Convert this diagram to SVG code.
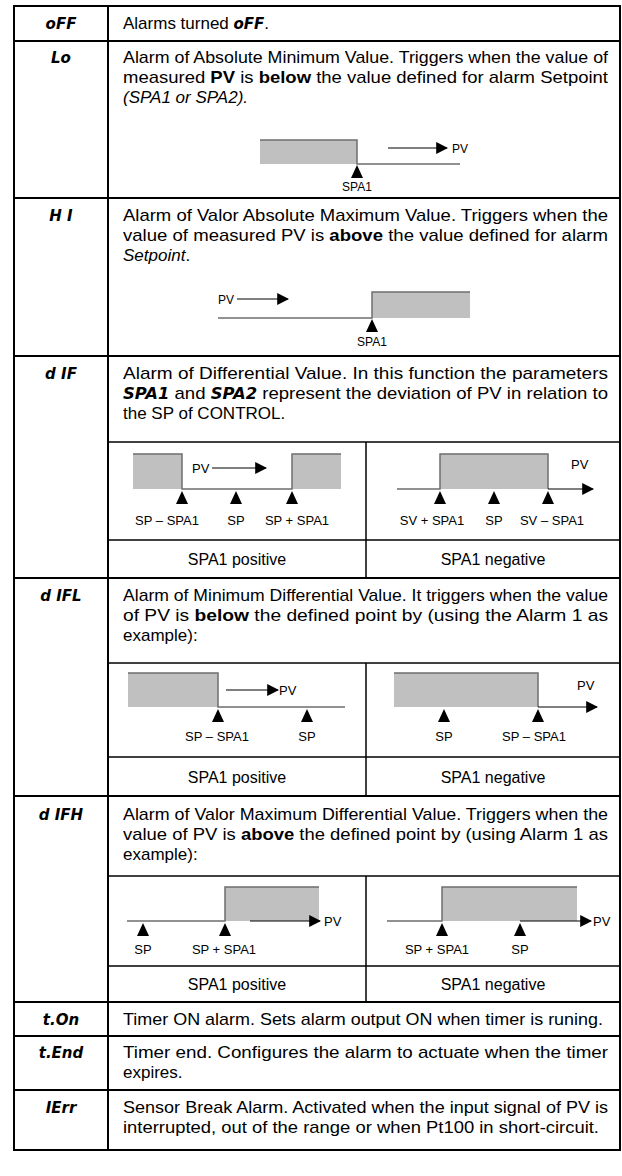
<svg xmlns="http://www.w3.org/2000/svg" width="622" height="1176" viewBox="0 0 622 1176">
<defs>
<style>
.t{font-family:"Liberation Sans",Arial,sans-serif;font-size:17px;fill:#000}
.k{font-family:"DejaVu Sans",sans-serif;font-weight:bold;font-style:oblique;font-size:15px;fill:#000}
.d{font-family:"Liberation Sans",Arial,sans-serif;font-size:13px;fill:#000}
.ds{font-family:"Liberation Sans",Arial,sans-serif;font-size:12px;fill:#000}
.c{font-family:"Liberation Sans",Arial,sans-serif;font-size:16px;fill:#000;text-anchor:middle}
.m{text-anchor:middle}
.bd{font-weight:bold}
.it{font-style:italic}
.grid{stroke:#000;stroke-width:2;fill:none}
.sub{stroke:#000;stroke-width:1.5;fill:none}
.zone{fill:#c0c0c0;stroke:none}
.edge{stroke:#6e6e6e;stroke-width:1.5;fill:none}
.axis{stroke:#000;stroke-width:1.2;fill:none}
</style>
<marker id="ah" viewBox="0 0 10 10" refX="9" refY="5" markerWidth="12" markerHeight="12" markerUnits="userSpaceOnUse" orient="auto"><path d="M0,0 L10,5 L0,10 Z" fill="#000"/></marker>
<path id="tri" d="M0,0 L-6,13 L6,13 Z" fill="#000"/>
</defs>
<rect width="622" height="1176" fill="#fff"/>

<g id="grid" class="grid">
<rect x="14" y="6" width="606" height="1144"/>
<line x1="108" y1="6" x2="108" y2="1150"/>
<line x1="14" y1="41" x2="620" y2="41"/>
<line x1="14" y1="198" x2="620" y2="198"/>
<line x1="14" y1="356" x2="620" y2="356"/>
<line x1="14" y1="578" x2="620" y2="578"/>
<line x1="14" y1="796" x2="620" y2="796"/>
<line x1="14" y1="1002" x2="620" y2="1002"/>
<line x1="14" y1="1036" x2="620" y2="1036"/>
<line x1="14" y1="1090" x2="620" y2="1090"/>
</g>
<g id="subgrid" class="sub">
<line x1="108" y1="442" x2="620" y2="442"/><line x1="108" y1="540" x2="620" y2="540"/><line x1="366" y1="442" x2="366" y2="578"/>
<line x1="108" y1="663" x2="620" y2="663"/><line x1="108" y1="757" x2="620" y2="757"/><line x1="366" y1="663" x2="366" y2="796"/>
<line x1="108" y1="876" x2="620" y2="876"/><line x1="108" y1="966" x2="620" y2="966"/><line x1="366" y1="876" x2="366" y2="1002"/>
</g>

<g id="row-off">
<text class="k m" x="61" y="29">oFF</text>
<text class="t" x="123" y="29">Alarms turned <tspan class="k">oFF</tspan>.</text>
</g>

<g id="row-lo">
<text class="k m" x="61" y="63">Lo</text>
<text class="t" x="123" y="63" textLength="485" lengthAdjust="spacingAndGlyphs">Alarm of Absolute Minimum Value. Triggers when the value of</text>
<text class="t" x="123" y="83" textLength="485" lengthAdjust="spacingAndGlyphs">measured <tspan class="bd">PV</tspan> is <tspan class="bd">below</tspan> the value defined for alarm Setpoint</text>
<text class="t it" x="123" y="103">(SPA1 or SPA2).</text>
<rect class="zone" x="260" y="140" width="97" height="24"/>
<path class="edge" d="M260,140 H357 V164 H460"/>
<line class="axis" x1="388" y1="148" x2="447" y2="148" marker-end="url(#ah)"/>
<text class="ds" x="452" y="153">PV</text>
<use href="#tri" x="357" y="165"/>
<text class="ds m" x="357" y="191">SPA1</text>
</g>

<g id="row-hi">
<text class="k m" x="61" y="221">H I</text>
<text class="t" x="123" y="221" textLength="485" lengthAdjust="spacingAndGlyphs">Alarm of Valor Absolute Maximum Value. Triggers when the</text>
<text class="t" x="123" y="241" textLength="485" lengthAdjust="spacingAndGlyphs">value of measured PV is <tspan class="bd">above</tspan> the value defined for alarm</text>
<text class="t" x="123" y="261"><tspan class="it">Setpoint</tspan>.</text>
<text class="ds" x="218" y="304">PV</text>
<line class="axis" x1="237" y1="299" x2="288" y2="299" marker-end="url(#ah)"/>
<rect class="zone" x="372" y="292" width="98" height="26"/>
<path class="edge" d="M218,318 H372 V292 H470"/>
<use href="#tri" x="372" y="319"/>
<text class="ds m" x="372" y="346">SPA1</text>
</g>

<g id="row-dif">
<text class="k m" x="61" y="379">d IF</text>
<text class="t" x="123" y="379" textLength="485" lengthAdjust="spacingAndGlyphs">Alarm of Differential Value. In this function the parameters</text>
<text class="t" x="123" y="399" textLength="485" lengthAdjust="spacingAndGlyphs"><tspan class="k">SPA1</tspan> and <tspan class="k">SPA2</tspan> represent the deviation of PV in relation to</text>
<text class="t" x="123" y="419">the SP of CONTROL.</text>
<rect class="zone" x="133" y="454" width="49" height="35"/>
<rect class="zone" x="292" y="454" width="49" height="35"/>
<path class="edge" d="M133,454 H182 V489 H292 V454 H341"/>
<text class="d" x="192" y="473">PV</text>
<line class="axis" x1="212" y1="468" x2="266" y2="468" marker-end="url(#ah)"/>
<use href="#tri" x="182" y="491"/><use href="#tri" x="236" y="491"/><use href="#tri" x="292" y="491"/>
<text class="d m" x="167" y="525">SP – SPA1</text>
<text class="d m" x="236" y="525">SP</text>
<text class="d m" x="297" y="525">SP + SPA1</text>
<rect class="zone" x="440" y="454" width="108" height="35"/>
<path class="edge" d="M397,489 H440 V454 H548 V489"/>
<line class="axis" x1="548" y1="489" x2="593" y2="489" marker-end="url(#ah)"/>
<text class="d" x="571" y="469">PV</text>
<use href="#tri" x="440" y="491"/><use href="#tri" x="494" y="491"/><use href="#tri" x="548" y="491"/>
<text class="d m" x="432" y="525">SV + SPA1</text>
<text class="d m" x="494" y="525">SP</text>
<text class="d m" x="552" y="525">SV – SPA1</text>
<text class="c" x="237" y="565">SPA1 positive</text>
<text class="c" x="493" y="565">SPA1 negative</text>
</g>

<g id="row-difl">
<text class="k m" x="61" y="601">d IFL</text>
<text class="t" x="123" y="601" textLength="485" lengthAdjust="spacingAndGlyphs">Alarm of Minimum Differential Value. It triggers when the value</text>
<text class="t" x="123" y="621" textLength="485" lengthAdjust="spacingAndGlyphs">of PV is <tspan class="bd">below</tspan> the defined point by (using the Alarm 1 as</text>
<text class="t" x="123" y="641">example):</text>
<rect class="zone" x="128" y="673" width="90" height="34"/>
<path class="edge" d="M128,673 H218 V707 H345"/>
<line class="axis" x1="226" y1="690" x2="278" y2="690" marker-end="url(#ah)"/>
<text class="d" x="279" y="695">PV</text>
<use href="#tri" x="218" y="709"/><use href="#tri" x="307" y="709"/>
<text class="d m" x="217" y="741">SP – SPA1</text>
<text class="d m" x="307" y="741">SP</text>
<rect class="zone" x="394" y="673" width="144" height="34"/>
<path class="edge" d="M394,673 H538 V707"/>
<line class="axis" x1="538" y1="707" x2="597" y2="707" marker-end="url(#ah)"/>
<text class="d" x="577" y="690">PV</text>
<use href="#tri" x="444" y="709"/><use href="#tri" x="538" y="709"/>
<text class="d m" x="444" y="741">SP</text>
<text class="d m" x="534" y="741">SP – SPA1</text>
<text class="c" x="237" y="783">SPA1 positive</text>
<text class="c" x="493" y="783">SPA1 negative</text>
</g>

<g id="row-difh">
<text class="k m" x="61" y="820">d IFH</text>
<text class="t" x="123" y="820" textLength="485" lengthAdjust="spacingAndGlyphs">Alarm of Valor Maximum Differential Value. Triggers when the</text>
<text class="t" x="123" y="840" textLength="485" lengthAdjust="spacingAndGlyphs">value of PV is <tspan class="bd">above</tspan> the defined point by (using Alarm 1 as</text>
<text class="t" x="123" y="860">example):</text>
<rect class="zone" x="225" y="887" width="94" height="34"/>
<path class="edge" d="M127,921 H225 V887 H319"/>
<line class="axis" x1="250" y1="921" x2="320" y2="921" marker-end="url(#ah)"/>
<text class="d" x="324" y="926">PV</text>
<use href="#tri" x="143" y="923"/><use href="#tri" x="225" y="923"/>
<text class="d m" x="143" y="954">SP</text>
<text class="d m" x="224" y="954">SP + SPA1</text>
<rect class="zone" x="442" y="887" width="135" height="34"/>
<path class="edge" d="M387,921 H442 V887 H577"/>
<line class="axis" x1="520" y1="921" x2="591" y2="921" marker-end="url(#ah)"/>
<text class="d" x="593" y="926">PV</text>
<use href="#tri" x="442" y="923"/><use href="#tri" x="520" y="923"/>
<text class="d m" x="437" y="954">SP + SPA1</text>
<text class="d m" x="520" y="954">SP</text>
<text class="c" x="237" y="990">SPA1 positive</text>
<text class="c" x="493" y="990">SPA1 negative</text>
</g>

<g id="row-ton">
<text class="k m" x="61" y="1025">t.On</text>
<text class="t" x="123" y="1025" textLength="480" lengthAdjust="spacingAndGlyphs">Timer ON alarm. Sets alarm output ON when timer is runing.</text>
</g>

<g id="row-tend">
<text class="k m" x="61" y="1058">t.End</text>
<text class="t" x="123" y="1058" textLength="485" lengthAdjust="spacingAndGlyphs">Timer end. Configures the alarm to actuate when the timer</text>
<text class="t" x="123" y="1078">expires.</text>
</g>

<g id="row-ierr">
<text class="k m" x="61" y="1113">IErr</text>
<text class="t" x="123" y="1113" textLength="485" lengthAdjust="spacingAndGlyphs">Sensor Break Alarm. Activated when the input signal of PV is</text>
<text class="t" x="123" y="1133" textLength="476" lengthAdjust="spacingAndGlyphs">interrupted, out of the range or when Pt100 in short-circuit.</text>
</g>
</svg>
